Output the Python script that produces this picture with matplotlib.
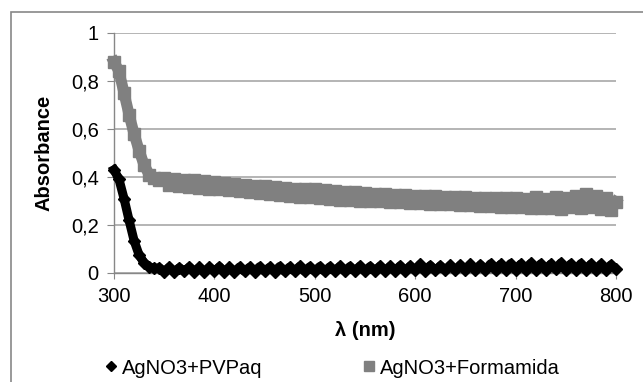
import numpy as np
import matplotlib
matplotlib.use("Agg")
import matplotlib.pyplot as plt
from matplotlib.lines import Line2D
from matplotlib.patches import Rectangle

plt.rcParams['font.family'] = ['Liberation Sans', 'DejaVu Sans']

# wavelength grid (nm), read every 5 nm
wavelength = np.arange(300, 805, 5)

# AgNO3+PVPaq (black diamonds)
pvp = [0.430, 0.390, 0.310, 0.220, 0.135, 0.075, 0.042, 0.026, 0.019,
       0.022, 0.006, 0.024, 0.005, 0.022, 0.007, 0.025, 0.006, 0.023, 0.004,
       0.024, 0.007, 0.026, 0.006, 0.023, 0.005, 0.025, 0.007, 0.024, 0.006,
       0.026, 0.008, 0.024, 0.006, 0.027, 0.007, 0.025, 0.008, 0.028, 0.007,
       0.026, 0.008, 0.027, 0.007, 0.026, 0.009, 0.028, 0.008, 0.027, 0.009,
       0.029, 0.008, 0.027, 0.010, 0.029, 0.009, 0.028, 0.010, 0.030, 0.009,
       0.029, 0.011, 0.036, 0.010, 0.031, 0.011, 0.030, 0.012, 0.032, 0.011,
       0.033, 0.012, 0.036, 0.012, 0.034, 0.013, 0.038, 0.012, 0.036, 0.014,
       0.039, 0.013, 0.037, 0.014, 0.040, 0.013, 0.038, 0.014, 0.037, 0.015,
       0.042, 0.014, 0.038, 0.013, 0.039, 0.014, 0.037, 0.013, 0.036, 0.012,
       0.034, 0.015]

# AgNO3+Formamida (gray squares)
formamida = [0.880, 0.840, 0.750, 0.660, 0.580, 0.510, 0.450, 0.410, 0.395, 0.388,
             0.395, 0.365, 0.392, 0.362, 0.388, 0.360, 0.386, 0.356, 0.384, 0.352,
             0.380, 0.348, 0.376, 0.345, 0.372, 0.342, 0.368, 0.336, 0.364, 0.334,
             0.362, 0.328, 0.358, 0.326, 0.354, 0.320, 0.352, 0.318, 0.350, 0.316,
             0.348, 0.312, 0.346, 0.310, 0.340, 0.306, 0.338, 0.304, 0.336, 0.302,
             0.334, 0.300, 0.330, 0.298, 0.328, 0.296, 0.326, 0.294, 0.324, 0.292,
             0.322, 0.290, 0.322, 0.288, 0.320, 0.286, 0.318, 0.286, 0.316, 0.284,
             0.316, 0.282, 0.314, 0.280, 0.312, 0.278, 0.312, 0.276, 0.314, 0.274,
             0.312, 0.276, 0.310, 0.272, 0.316, 0.272, 0.310, 0.270, 0.318, 0.268,
             0.314, 0.274, 0.322, 0.270, 0.328, 0.276, 0.322, 0.268, 0.314, 0.262,
             0.296]

assert len(pvp) == len(wavelength) and len(formamida) == len(wavelength)

labels = ['AgNO3+PVPaq', 'AgNO3+Formamida']
yticks = [0, 0.2, 0.4, 0.6, 0.8, 1]
ytick_labels = ['0', '0,2', '0,4', '0,6', '0,8', '1']
xticks = [300, 400, 500, 600, 700, 800]

W, H = 643, 382
fig = plt.figure(figsize=(W / 100, H / 100), dpi=100)
ax = fig.add_axes([114 / W, 1 - 273 / H, (616 - 114) / W, (273 - 33) / H])

# outer chart frame (cut off by the image edge on the right/bottom)
fig.patches.append(Rectangle((11 / W, -0.2), 1.2, 1 - 12 / H + 0.2,
                             transform=fig.transFigure, fill=False,
                             edgecolor='#878787', linewidth=1.2))

ax.plot(wavelength, formamida, color='#808080', marker='s', markersize=8,
        linewidth=8, clip_on=False, zorder=3)
ax.plot(wavelength, pvp, color='black', marker='D', markersize=6.5,
        linewidth=6.5, clip_on=False, zorder=4)

ax.set_xlim(300, 800)
ax.set_ylim(0, 1)
ax.set_xticks(xticks)
ax.set_yticks(yticks)
ax.set_yticklabels(ytick_labels)
ax.grid(axis='y', color='#a8a8a8', linewidth=1.2)
ax.set_axisbelow(True)
for s in ['top', 'right']:
    ax.spines[s].set_visible(False)
for s in ['left', 'bottom']:
    ax.spines[s].set_color('#878787')
    ax.spines[s].set_linewidth(1.0)
ax.tick_params(axis='both', direction='out', color='#878787', labelsize=14.5,
               labelcolor='black', pad=6)
ax.tick_params(axis='y', length=5)
ax.tick_params(axis='x', length=4)

ax.set_xlabel('λ (nm)', fontsize=14.5, fontweight='bold')
ax.xaxis.set_label_coords(0.5, -0.2)
ax.set_ylabel('Absorbance', fontsize=14.5, fontweight='bold')
ax.yaxis.set_label_coords(-0.12, 0.5)

handles = [Line2D([], [], color='black', marker='D', markersize=5, linestyle='none'),
           Line2D([], [], color='#808080', marker='s', markersize=7, linestyle='none')]
fig.legend(handles, labels, loc='center left', ncol=2, frameon=False,
           bbox_to_anchor=(105 / W, 1 - 368 / H), borderaxespad=0, borderpad=0,
           handlelength=0.6, handletextpad=0.25, columnspacing=5.0,
           fontsize=14.5)

fig.savefig('out.png', dpi=100)
